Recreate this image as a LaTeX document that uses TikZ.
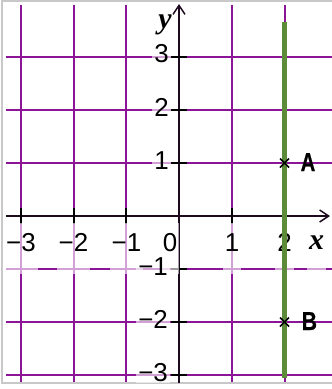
\documentclass[tikz,border=0pt]{standalone}
\usepackage{fontspec}
\setmainfont{Liberation Sans}
\newfontfamily\timesfont{Liberation Serif}
\newfontfamily\boldsans{Liberation Sans Bold}[FakeBold=0.6]
\usetikzlibrary{arrows.meta}
\definecolor{gridpurple}{RGB}{140,20,150}
\definecolor{axisdark}{RGB}{30,10,30}
\definecolor{linegreen}{RGB}{92,140,58}
\definecolor{framegray}{RGB}{200,200,200}
\begin{document}
\begin{tikzpicture}[x=1bp,y=-1bp,
  gridline/.style={draw=gridpurple, line width=2bp},
  axisline/.style={draw=axisdark, line width=2bp, -{Straight Barb[length=9bp,width=12bp,line width=1.5bp]}},
  tickmark/.style={draw=black, line width=2bp},
  lbl/.style={font=\fontsize{26}{26}\selectfont, fill=white, fill opacity=0.6, text opacity=1, inner xsep=2bp, inner ysep=2bp},
  xlbl/.style={lbl, anchor=base, text height=26bp, text depth=21bp},
  ylbl/.style={lbl, anchor=base east},
  letter/.style={font=\fontsize{30}{30}\selectfont\timesfont\bfseries\itshape, inner sep=0bp, anchor=base},
  pointlbl/.style={font=\fontsize{26}{26}\selectfont\boldsans, inner sep=0bp, anchor=base west},
  crossmark/.style={draw=black, line width=1.6bp},
  greenline/.style={draw=linegreen, line width=4.3bp}
]
\useasboundingbox (0,0) rectangle (332,389);
% frame
\draw[framegray, line width=2bp] (332,1) -- (2,1) -- (2,383) -- (332,383);
% grid
\foreach \gx in {21,74,126,232,285}
  \draw[gridline] (\gx,5) -- (\gx,382);
\foreach \gy in {57,110,163,269,322,375}
  \draw[gridline] (6,\gy) -- (332,\gy);
% axes
\coordinate (xs) at (6,216);
\coordinate (xe) at (330,216);
\coordinate (ys) at (179,383);
\coordinate (ye) at (179,4);
\draw[axisline] (xs) -- (xe);
\draw[axisline] (ys) -- (ye);
% ticks
\foreach \gx in {21,74,126,232,285}
  \draw[tickmark] (\gx,208) -- (\gx,224);
\foreach \gy in {57,110,163,269,322,375}
  \draw[tickmark] (171,\gy) -- (187,\gy);
% x labels
\node[xlbl] (xm3) at (21,251) {−3};
\node[xlbl] (xm2) at (73.5,251) {−2};
\node[xlbl] (xm1) at (126.5,251) {−1};
\node[xlbl] (x0) at (170,251) {0};
\node[xlbl] (x1) at (232,251) {1};
\node[xlbl] (x2) at (284.5,251) {2};
% y labels
\node[ylbl] (y3) at (171,62) {3};
\node[ylbl] (y2) at (171,116) {2};
\node[ylbl] (y1) at (171,169) {1};
\node[ylbl] (ym1) at (170,275) {−1};
\node[ylbl] (ym2) at (170,328) {−2};
\node[ylbl] (ym3) at (170,381) {−3};
% axis letters
\node[letter, fill=white, fill opacity=0.6, text opacity=1, inner sep=2bp, text height=14bp, text depth=22bp] (xlab) at (316.7,249.5) {x};
\node[letter] (ylab) at (165,28) {y};
% green line
\coordinate (gt) at (284.5,22);
\coordinate (gb) at (284.5,378);
\draw[greenline] (gt) -- (gb);
% points
\coordinate (A) at (284.5,163);
\coordinate (B) at (284.5,322);
\draw[crossmark] ([shift={(-4.5,-4.5)}]A) -- ([shift={(4.5,4.5)}]A);
\draw[crossmark] ([shift={(-4.5,4.5)}]A) -- ([shift={(4.5,-4.5)}]A);
\draw[crossmark] ([shift={(-4.5,-4.5)}]B) -- ([shift={(4.5,4.5)}]B);
\draw[crossmark] ([shift={(-4.5,4.5)}]B) -- ([shift={(4.5,-4.5)}]B);
\node[pointlbl] (Alab) at (300.5,171) {\scalebox{0.78}[1]{A}};
\node[pointlbl] (Blab) at (301.5,330) {\scalebox{0.82}[1]{B}};
\end{tikzpicture}
\end{document}
